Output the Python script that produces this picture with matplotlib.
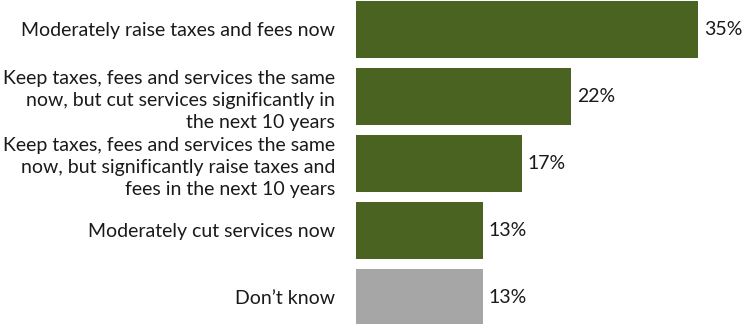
import matplotlib.pyplot as plt

# данные
categories = [
    'Moderately raise taxes and fees now',
    'Keep taxes, fees and services the same\nnow, but cut services significantly in\nthe next 10 years',
    'Keep taxes, fees and services the same\nnow, but significantly raise taxes and\nfees in the next 10 years',
    'Moderately cut services now',
    'Don\u2019t know',
]
values = [35, 22, 17, 13, 13]
colors = ['#4B6320', '#4B6320', '#4B6320', '#4B6320', '#A6A6A6']

plt.rcParams['font.family'] = ['Lato', 'DejaVu Sans']

fig = plt.figure(figsize=(7.42, 3.24), dpi=100)
ax = fig.add_axes([356 / 742, 0, 381 / 742, 1])

y = range(len(categories))
ax.barh(y, values, height=0.85, color=colors)
ax.set_xlim(0, 39)
ax.set_ylim(4.396, -0.44)

for i, v in enumerate(values):
    ax.text(v + 0.6, i, f'{v}%', va='center', ha='left', fontsize=14, color='#1a1a1a')

ax.set_yticks(list(y))
ax.set_yticklabels(categories, fontsize=14, color='#1a1a1a', linespacing=1.36)
ax.tick_params(axis='y', length=0, pad=15)
ax.set_xticks([])
for s in ax.spines.values():
    s.set_visible(False)

fig.savefig('out.png', dpi=100)
